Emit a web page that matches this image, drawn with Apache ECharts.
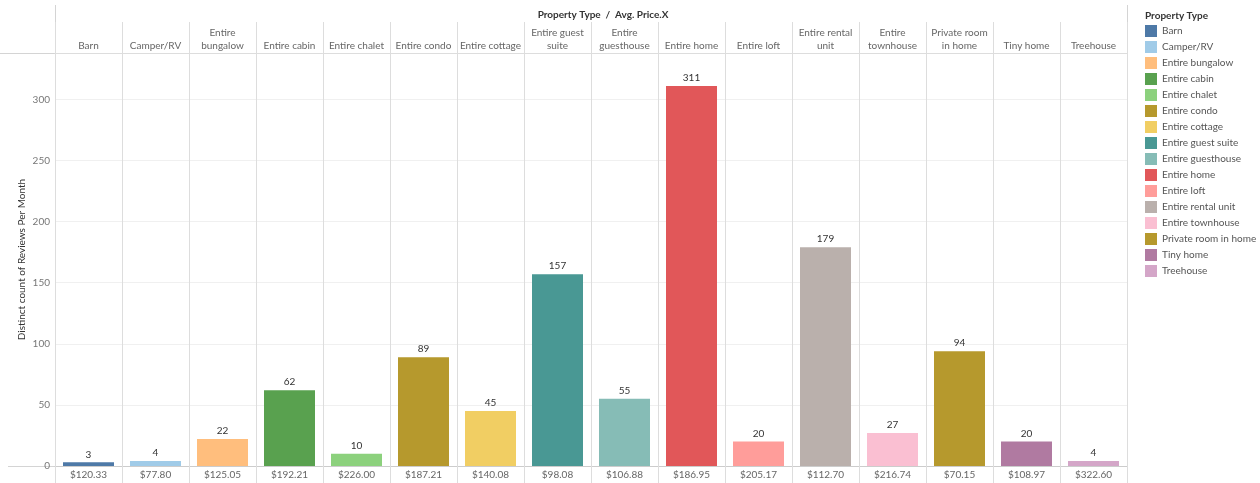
<!DOCTYPE html>
<html><head><meta charset="utf-8">
<script src="https://cdn.jsdelivr.net/npm/echarts@6/dist/echarts.min.js"></script>
<style>html,body{margin:0;padding:0;background:#fff}#c{width:1260px;height:483px}</style>
</head><body><div id="c"></div>
<script>
const categories = ["Barn","Camper/RV","Entire bungalow","Entire cabin","Entire chalet","Entire condo","Entire cottage","Entire guest suite","Entire guesthouse","Entire home","Entire loft","Entire rental unit","Entire townhouse","Private room in home","Tiny home","Treehouse"];
const headerLabels = ["Barn","Camper/RV","Entire\nbungalow","Entire cabin","Entire chalet","Entire condo","Entire cottage","Entire guest\nsuite","Entire\nguesthouse","Entire home","Entire loft","Entire rental\nunit","Entire\ntownhouse","Private room\nin home","Tiny home","Treehouse"];
const reviews = [3,4,22,62,10,89,45,157,55,311,20,179,27,94,20,4];
const avgPrice = ["$120.33","$77.80","$125.05","$192.21","$226.00","$187.21","$140.08","$98.08","$106.88","$186.95","$205.17","$112.70","$216.74","$70.15","$108.97","$322.60"];
const colors = ["#4e79a7","#a0cbe8","#ffbe7d","#59a14f","#8cd17d","#b6992d","#f1ce63","#499894","#86bcb6","#e15759","#ff9d9a","#bab0ac","#fabfd2","#b6992d","#b07aa1","#d4a6c8"];
const yTicks = [0,50,100,150,200,250,300];

const FONT = "Lato";
const chart = echarts.init(document.getElementById('c'));
const series = categories.map((name, i) => ({
  name: name,
  type: 'bar',
  stack: 'all',
  barWidth: 51,
  xAxisIndex: 0,
  itemStyle: {color: colors[i]},
  label: {show: true, position: 'top', distance: 3, color: '#333', fontFamily: FONT, fontSize: 10},
  data: reviews.map((v, j) => j === i ? v : '-')
}));
const lineStyle = {stroke: '#d4d4d4', lineWidth: 1};
chart.setOption({
  animation: false,
  textStyle: {fontFamily: FONT},
  grid: {left: 55, right: 133, top: 53, bottom: 17},
  title: [{
    text: 'Property Type  /  Avg. Price.X', left: 598, top: 5, textAlign: 'center',
    textStyle: {fontFamily: FONT, fontSize: 10, fontWeight: 'bold', color: '#333'}
  }, {
    text: 'Property Type', left: 1140, top: 6,
    textStyle: {fontFamily: FONT, fontSize: 10, fontWeight: 'bold', color: '#333'}
  }],
  legend: {
    orient: 'vertical', left: 1140, top: 20, itemWidth: 12, itemHeight: 12, itemGap: 4,
    icon: 'rect', textStyle: {fontFamily: FONT, fontSize: 10, color: '#555'},
    data: categories
  },
  xAxis: [{
    type: 'category', data: avgPrice, position: 'bottom',
    axisLine: {lineStyle: {color: '#ccc'}},
    axisTick: {show: true, length: 17, lineStyle: {color: '#ddd'}},
    axisLabel: {color: '#666', fontSize: 10, fontFamily: FONT, margin: 4},
    splitLine: {show: true, interval: 0, lineStyle: {color: '#ddd'}}
  }, {
    type: 'category', data: headerLabels, position: 'top',
    axisLine: {lineStyle: {color: '#ddd'}},
    axisTick: {show: true, length: 31, lineStyle: {color: '#ddd'}},
    axisLabel: {color: '#666', fontSize: 10, fontFamily: FONT, margin: 1, lineHeight: 13, interval: 0}
  }],
  yAxis: {
    type: 'value', min: 0, max: 338, interval: 50,
    name: 'Distinct count of Reviews Per Month', nameLocation: 'middle', nameGap: 28, nameRotate: 90,
    nameMoveOverlap: false,
    nameTextStyle: {color: '#333', fontSize: 10, fontFamily: FONT},
    axisLine: {show: true, lineStyle: {color: '#ddd'}},
    axisTick: {show: false},
    axisLabel: {color: '#777', fontSize: 10, fontFamily: FONT, margin: 5, showMaxLabel: false,
      formatter: v => yTicks.includes(v) ? String(v) : ''},
    splitLine: {show: true, lineStyle: {color: '#f0f0f0'}}
  },
  graphic: [
    {type: 'line', shape: {x1: 55.5, y1: 5, x2: 55.5, y2: 53}, style: lineStyle, silent: true},
    {type: 'line', shape: {x1: 1127.5, y1: 5, x2: 1127.5, y2: 53}, style: lineStyle, silent: true},
    {type: 'line', shape: {x1: 0, y1: 53.5, x2: 55, y2: 53.5}, style: lineStyle, silent: true},
    {type: 'line', shape: {x1: 8, y1: 466.5, x2: 55, y2: 466.5}, style: lineStyle, silent: true}
  ],
  series: series
});
</script></body></html>
